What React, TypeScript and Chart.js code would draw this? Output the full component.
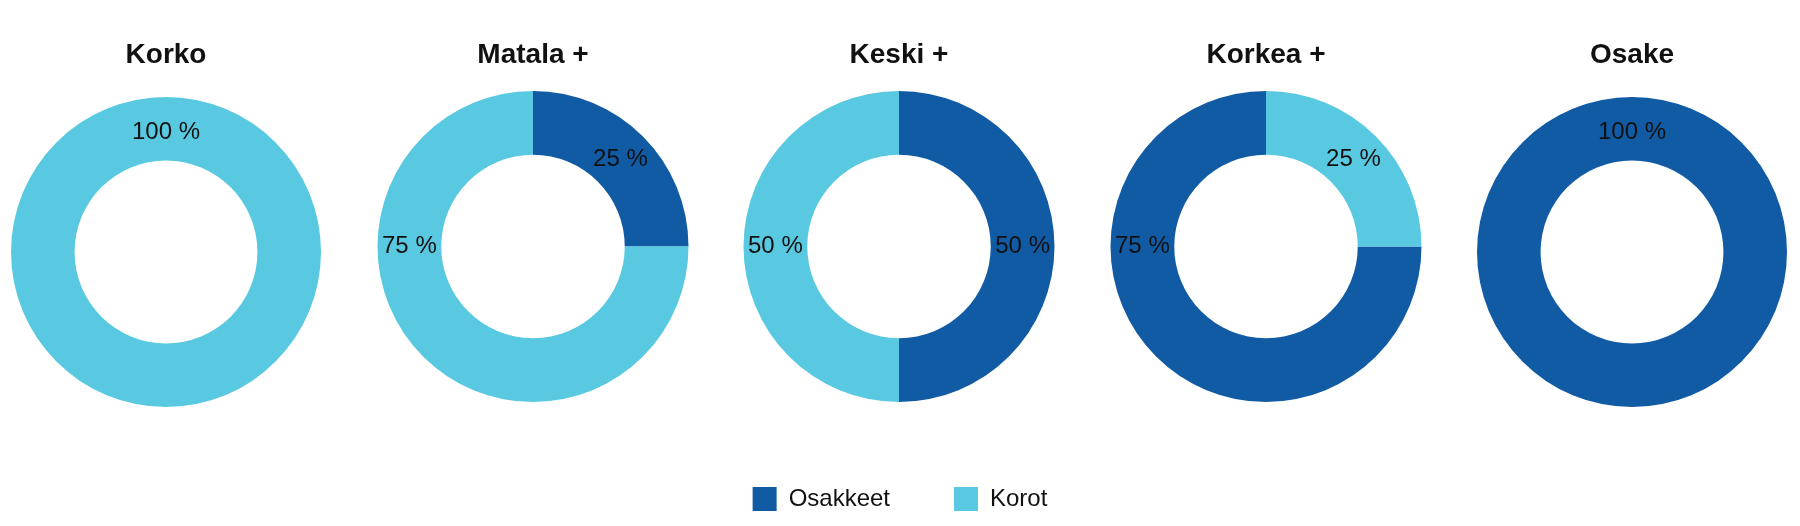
import React, { useEffect, useRef } from "react";
import { Chart, registerables } from "chart.js";

Chart.register(...registerables);

// ---- data ----
const TITLES = ["Korko", "Matala +", "Keski +", "Korkea +", "Osake"];
const SERIES_LABELS = ["Osakkeet", "Korot"];
const OSAKKEET = [0, 25, 50, 75, 100];
const KOROT = [100, 75, 50, 25, 0];

// ---- style ----
const COLORS = ["#115aa4", "#59c9e1"];
const FONT = "'Liberation Sans', Arial, Helvetica, sans-serif";
const TEXT_COLOR = "#111111";

const arcLabelPlugin = {
  id: "arcLabels",
  afterDatasetsDraw(chart: any) {
    const ctx = chart.ctx;
    const meta = chart.getDatasetMeta(0);
    const data = chart.data.datasets[0].data as number[];
    ctx.save();
    ctx.font = `24px ${FONT}`;
    ctx.fillStyle = TEXT_COLOR;
    ctx.textAlign = "center";
    ctx.textBaseline = "middle";
    meta.data.forEach((arc: any, i: number) => {
      const v = data[i];
      if (!v) return;
      const { x, y, startAngle, endAngle, innerRadius, outerRadius } = arc.getProps(
        ["x", "y", "startAngle", "endAngle", "innerRadius", "outerRadius"],
        true
      );
      const span = endAngle - startAngle;
      let a: number;
      let r = (innerRadius + outerRadius) / 2;
      if (span >= 2 * Math.PI - 1e-6) {
        a = startAngle;
        r = innerRadius + (outerRadius - innerRadius) * 0.44;
      } else if (span > Math.PI + 1e-6) a = startAngle + Math.PI;
      else a = (startAngle + endAngle) / 2;
      ctx.fillText(`${v} %`, x + Math.cos(a) * r, y + Math.sin(a) * r);
    });
    ctx.restore();
  },
};

function Donut({ index }: { index: number }) {
  const ref = useRef<HTMLCanvasElement | null>(null);
  const full = OSAKKEET[index] === 100 || KOROT[index] === 100;
  const height = full ? 407 : 402;
  const center = 899 + (index - 2) * 366.5;
  const left = Math.round(center - 165);

  useEffect(() => {
    if (!ref.current) return;
    const o = OSAKKEET[index];
    const k = KOROT[index];
    const rotation = o > k && k > 0 ? (k / 100) * 360 : 0;
    const chart = new Chart(ref.current, {
      type: "doughnut",
      data: {
        labels: SERIES_LABELS,
        datasets: [
          {
            data: [o, k],
            backgroundColor: COLORS,
            borderWidth: 0,
            hoverOffset: 0,
          },
        ],
      },
      options: {
        responsive: false,
        animation: false,
        devicePixelRatio: 1,
        events: [],
        cutout: "59%",
        rotation,
        layout: { padding: { top: 0, bottom: full ? -1.5 : 0, left: 0, right: 0 } },
        plugins: {
          legend: { display: false },
          tooltip: { enabled: false },
          title: {
            display: true,
            text: TITLES[index],
            color: TEXT_COLOR,
            font: { family: FONT, size: 28, weight: "bold", lineHeight: 1.2 },
            padding: { top: 38.2, bottom: full ? 25.2 : 19.2 },
          },
        },
      } as any,
      plugins: [arcLabelPlugin],
    });
    return () => chart.destroy();
  }, [index]);

  return (
    <canvas
      ref={ref}
      width={330}
      height={height}
      style={{ position: "absolute", left, top: 0, width: 330, height }}
    />
  );
}

function Legend() {
  const ref = useRef<HTMLCanvasElement | null>(null);
  useEffect(() => {
    if (!ref.current) return;
    const totals = [
      OSAKKEET.reduce((s, v) => s + v, 0),
      KOROT.reduce((s, v) => s + v, 0),
    ];
    const chart = new Chart(ref.current, {
      type: "doughnut",
      data: {
        labels: SERIES_LABELS,
        datasets: [
          {
            data: totals,
            backgroundColor: COLORS,
            borderWidth: 0,
            hoverOffset: 0,
            radius: 0,
          },
        ],
      },
      options: {
        responsive: false,
        animation: false,
        devicePixelRatio: 1,
        events: [],
        plugins: {
          tooltip: { enabled: false },
          legend: {
            display: true,
            position: "top",
            align: "center",
            maxHeight: 200,
            labels: {
              boxWidth: 24,
              boxHeight: 24,
              padding: 64,
              color: TEXT_COLOR,
              font: { family: FONT, size: 24 },
            },
          },
        },
      } as any,
    });
    return () => chart.destroy();
  }, []);
  return (
    <canvas
      ref={ref}
      width={1800}
      height={103}
      style={{ position: "absolute", left: 0, top: 423, width: 1800, height: 103 }}
    />
  );
}

export default function App() {
  return (
    <div
      style={{
        position: "fixed",
        left: 0,
        top: 0,
        width: 1800,
        height: 526,
        background: "#ffffff",
        overflow: "hidden",
      }}
    >
      {TITLES.map((_, i) => (
        <Donut key={i} index={i} />
      ))}
      <Legend />
    </div>
  );
}
